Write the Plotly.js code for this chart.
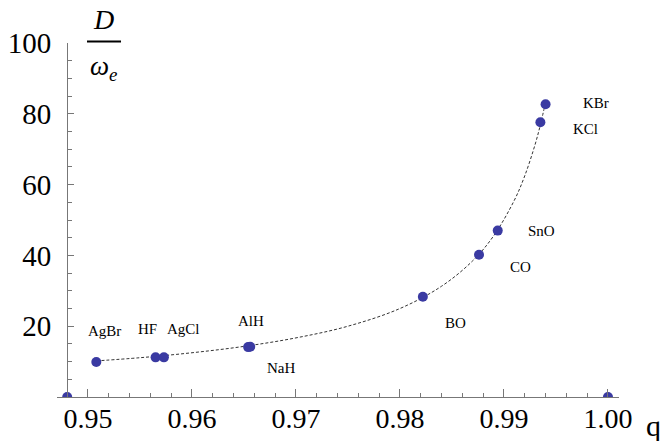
<!DOCTYPE html>
<html>
<head>
<meta charset="utf-8">
<script src="https://cdn.plot.ly/plotly-3.0.1.min.js"></script>
<style>html,body{margin:0;padding:0;background:#fff;}#chart{width:664px;height:441px;}</style>
</head>
<body>
<div id="chart"></div>
<script>
// ---- data ----
const molecules = ['AgBr', 'HF', 'AgCl', 'AlH', 'NaH', 'BO', 'CO', 'SnO', 'KCl', 'KBr'];
const qValues   = [0.9508, 0.9565, 0.9573, 0.9654, 0.9656, 0.9822, 0.9876, 0.9894, 0.9935, 0.9940];
const dValues   = [9.9, 11.2, 11.2, 14.1, 14.2, 28.3, 40.2, 47.0, 77.6, 82.7];

// points lying on the axis (partly hidden)
const axisQ = [0.948, 1.000];
const axisD = [0, 0];

// dashed trend curve
const curveQ = [0.9508, 0.955, 0.960, 0.965, 0.970, 0.975, 0.980, 0.984, 0.987, 0.989, 0.991, 0.992, 0.993, 0.9935, 0.994];
const curveD = [10.2, 11.1, 12.5, 14.3, 16.7, 20.0, 25.0, 31.3, 38.5, 45.5, 55.6, 62.5, 71.4, 76.9, 83.3];

// axis ticks
const xTickVals = [0.95, 0.96, 0.97, 0.98, 0.99, 1.00];
const xTickText = ['0.95', '0.96', '0.97', '0.98', '0.99', '1.00'];
const yTickVals = [20, 40, 60, 80, 100];
const yTickText = ['20', '40', '60', '80', '100'];

// label offsets in pixels (styling)
const labelDx = [8, -8, 20, 3, 31, 33, 41, 44, 45, 50];
const labelDy = [31, 28, 28, 26, -21, -26, -12, 0, -7, 1];

const pointColor = 'rgb(58,58,162)';
const serif = 'Liberation Serif';

const traces = [
  {
    x: curveQ, y: curveD, type: 'scatter', mode: 'lines',
    line: {color: '#333', width: 1, dash: '3px,2px', shape: 'spline'},
    hoverinfo: 'skip'
  },
  {
    x: qValues, y: dValues, type: 'scatter', mode: 'markers',
    marker: {color: pointColor, size: 10},
    text: molecules
  },
  {
    x: axisQ, y: axisD, type: 'scatter', mode: 'markers',
    marker: {color: pointColor, size: 10},
    cliponaxis: true
  }
];

const annotations = molecules.map((m, i) => ({
  x: qValues[i], y: dValues[i], xref: 'x', yref: 'y',
  text: m, showarrow: false,
  xshift: labelDx[i], yshift: labelDy[i],
  xanchor: 'center', yanchor: 'middle',
  font: {family: serif, size: 15, color: '#000'}
}));

annotations.push(
  {xref: 'paper', yref: 'paper', x: 0.0836, y: 1.066, text: '<i>D</i>', showarrow: false,
   xanchor: 'center', yanchor: 'middle', font: {family: serif, size: 28, color: '#000'}},
  {xref: 'paper', yref: 'paper', x: 0.0836, y: 0.93, text: '<i>ω</i><sub><i>e</i></sub>', showarrow: false,
   xanchor: 'center', yanchor: 'middle', font: {family: serif, size: 27, color: '#000'}},
  {xref: 'paper', yref: 'paper', x: 1.061, y: -0.08, text: 'q', showarrow: false,
   xanchor: 'center', yanchor: 'middle', font: {family: serif, size: 30, color: '#000'}}
);

const layout = {
  width: 664, height: 441,
  margin: {l: 57, r: 45, t: 43, b: 44},
  paper_bgcolor: '#fff', plot_bgcolor: '#fff',
  showlegend: false,
  font: {family: serif, color: '#000'},
  xaxis: {
    range: [0.94702, 1.00106],
    showgrid: false, zeroline: false,
    showline: true, linecolor: '#777', linewidth: 1,
    ticks: 'inside', ticklen: 8, tickcolor: '#777', tickwidth: 1,
    tickmode: 'array', tickvals: xTickVals, ticktext: xTickText,
    tickfont: {family: serif, size: 28, color: '#000'},
    ticklabelstandoff: -4,
    minor: {ticks: 'inside', ticklen: 4, tickcolor: '#777', dtick: 0.002, tick0: 0.95, showgrid: false},
    anchor: 'y', fixedrange: true
  },
  yaxis: {
    range: [0, 100],
    anchor: 'free', position: 0.018,
    showgrid: false, zeroline: false,
    showline: true, linecolor: '#777', linewidth: 1,
    ticks: 'inside', ticklen: 6, tickcolor: '#777', tickwidth: 1,
    tickmode: 'array', tickvals: yTickVals, ticktext: yTickText,
    tickfont: {family: serif, size: 29, color: '#000'},
    ticklabelstandoff: 10,
    minor: {ticks: 'inside', ticklen: 4, tickcolor: '#777', dtick: 5, tick0: 0, showgrid: false},
    fixedrange: true
  },
  shapes: [
    {type: 'line', xref: 'paper', yref: 'paper', x0: 0.0534, x1: 0.1139, y0: 1.004, y1: 1.004,
     line: {color: '#000', width: 2}}
  ],
  annotations: annotations
};

Plotly.newPlot('chart', traces, layout, {displayModeBar: false, staticPlot: true});
</script>
</body>
</html>
